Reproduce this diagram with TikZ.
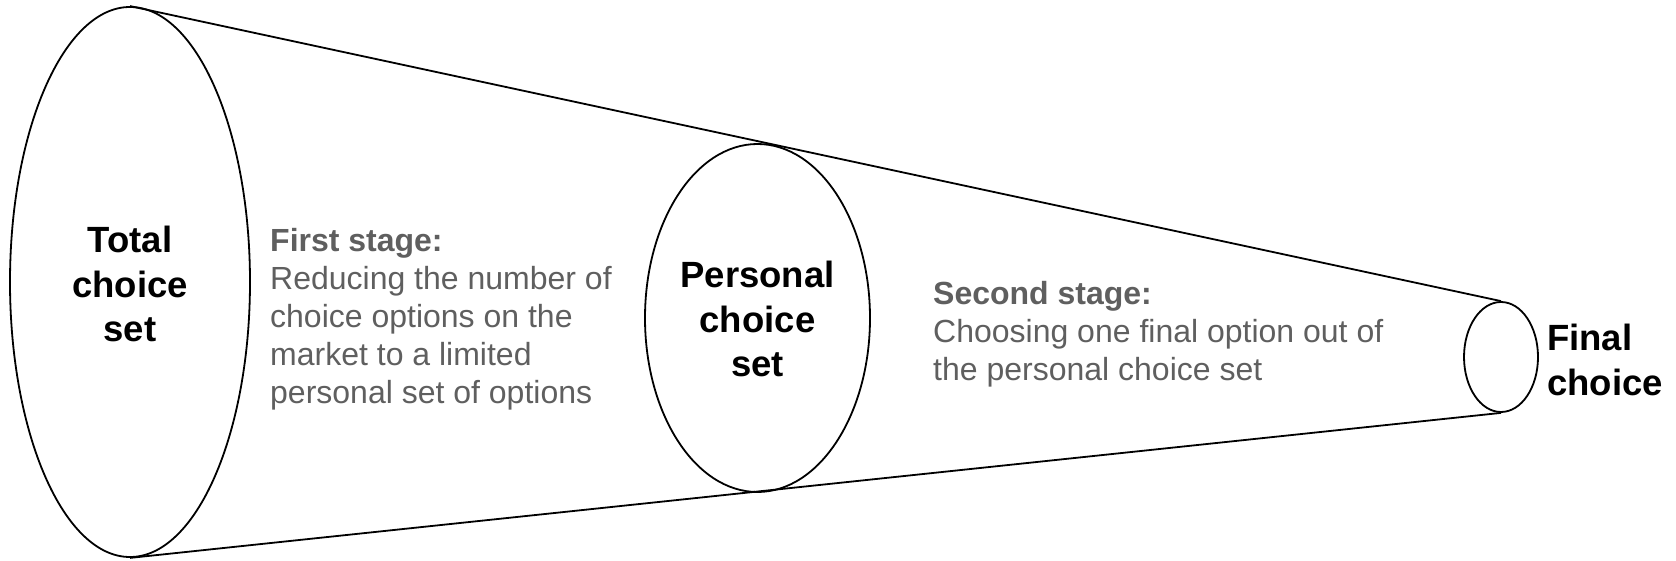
\documentclass[tikz,border=0pt]{standalone}
\usepackage{fontspec}
\setmainfont{Liberation Sans}
\usetikzlibrary{shapes.geometric}
\definecolor{stagegray}{HTML}{5F5F5F}
\begin{document}
\begin{tikzpicture}[x=1pt,y=-1pt,
  setell/.style={draw, ellipse, line width=1.8pt, inner sep=0pt},
  funnel/.style={line width=1.8pt},
  bigtxt/.style={font=\fontsize{36.5}{44.4}\selectfont\bfseries, align=center, inner sep=0pt},
  stagetxt/.style={font=\fontsize{32}{38}\selectfont, text=stagegray, align=left, anchor=north west, inner sep=0pt}]
\useasboundingbox (0,0) rectangle (1676,561);
\node[setell, minimum width=240, minimum height=550] (total) at (130,282) {};
\node[setell, minimum width=225, minimum height=348] (personal) at (757.5,318) {};
\node[setell, minimum width=74, minimum height=110] (final) at (1501,357) {};
\draw[funnel] (total.north) -- (final.north);
\draw[funnel] (total.south) -- (final.south);
\node[bigtxt] (totaltxt) at (130,284) {Total\\choice\\set};
\node[bigtxt] (personaltxt) at (757.5,319) {Personal\\choice\\set};
\node[bigtxt, align=left, anchor=west] (finaltxt) at (1547,360) {Final\\choice};
\node[stagetxt] (first) at (270,228.6) {\textbf{First stage:}\\Reducing the number of\\choice options on the\\market to a limited\\personal set of options};
\node[stagetxt] (second) at (933,281) {\textbf{Second stage:}\\Choosing one final option out of\\the personal choice set};
\end{tikzpicture}
\end{document}
